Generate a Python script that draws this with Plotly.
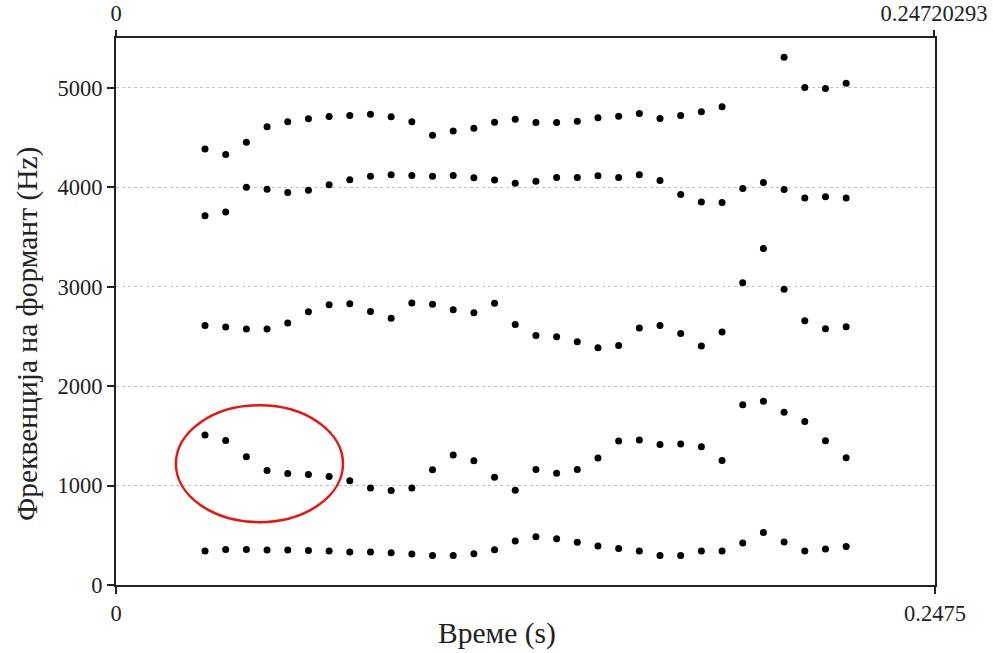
import plotly.graph_objects as go

# Frame times (s)
times = [0.0269, 0.03315, 0.0394, 0.04565, 0.0519, 0.05815, 0.0644, 0.07065,
         0.0769, 0.08315, 0.0894, 0.09565, 0.1019, 0.10815, 0.1144, 0.12065,
         0.1269, 0.13315, 0.1394, 0.14565, 0.1519, 0.15815, 0.1644, 0.17065,
         0.1769, 0.18315, 0.1894, 0.19565, 0.2019, 0.20815, 0.2144, 0.22065]

f1 = [341, 358, 358, 351, 351, 348, 341, 331, 331, 324, 311,
      297, 297, 314, 355, 442, 486, 465, 429, 392, 368, 341,
      297, 297, 341, 341, 422, 529, 432, 341, 361, 388]
f2 = [1508, 1454, 1289, 1151, 1121, 1111, 1091, 1047, 976, 950, 976,
      1158, 1306, 1249, 1084, 953, 1161, 1124, 1161, 1276, 1447, 1457,
      1413, 1417, 1390, 1252, 1813, 1847, 1736, 1645, 1450, 1279]
f3 = [2610, 2593, 2573, 2573, 2634, 2748, 2819, 2829, 2751, 2681, 2835,
      2822, 2768, 2738, 2832, 2620, 2509, 2496, 2445, 2385, 2408, 2583,
      2610, 2529, 2402, 2543, 3040, 3383, 2973, 2657, 2577, 2597]
f4 = [3714, 3751, 4000, 3980, 3946, 3970, 4024, 4074, 4111, 4124, 4118,
      4111, 4118, 4094, 4071, 4040, 4060, 4097, 4097, 4114, 4097, 4124,
      4067, 3926, 3852, 3845, 3987, 4047, 3976, 3892, 3903, 3892]
f5 = [4385, 4328, 4452, 4607, 4657, 4687, 4711, 4721, 4734, 4708, 4657,
      4523, 4566, 4593, 4654, 4684, 4650, 4650, 4664, 4698, 4714, 4741,
      4691, 4721, 4758, 4808, None, None, 5306, 5003, 4993, 5044]

formants = [f1, f2, f3, f4, f5]

x_range = [0, 0.2475]
y_range = [0, 5500]
y_ticks = [0, 1000, 2000, 3000, 4000, 5000]
bottom_tickvals = [0, 0.2475]
bottom_ticktext = ["0", "0.2475"]
top_tickvals = [0, 0.24720293]
top_ticktext = ["0", "0.24720293"]

FONT = "Liberation Serif"
INK = "#222222"
TICK_SIZE = 22.5

fig = go.Figure()
for f in formants:
    fig.add_trace(go.Scatter(x=times, y=f, mode="markers",
                             marker=dict(color="black", size=7),
                             showlegend=False, hoverinfo="skip"))
fig.add_trace(go.Scatter(x=[], y=[], xaxis="x2", showlegend=False))

fig.update_layout(
    width=993, height=653,
    margin=dict(l=116, r=58, t=38, b=68, autoexpand=False),
    paper_bgcolor="white", plot_bgcolor="white",
    font=dict(family=FONT, color=INK, size=21),
    xaxis=dict(range=x_range, tickvals=bottom_tickvals, ticktext=bottom_ticktext,
               showline=True, linecolor=INK, linewidth=2, mirror=True,
               ticks="outside", ticklen=7, tickwidth=1.5, tickcolor=INK,
               showgrid=False, zeroline=False, automargin=False,
               tickfont=dict(family=FONT, size=TICK_SIZE, color=INK)),
    xaxis2=dict(range=x_range, overlaying="x", side="top",
                tickvals=top_tickvals, ticktext=top_ticktext,
                showline=False, ticks="outside", ticklen=7, tickwidth=1.5,
                tickcolor=INK, showgrid=False, zeroline=False, automargin=False,
                tickfont=dict(family=FONT, size=TICK_SIZE, color=INK)),
    yaxis=dict(range=y_range, tickvals=y_ticks,
               showline=True, linecolor=INK, linewidth=2, mirror=True,
               ticks="outside", ticklen=7, tickwidth=1.5, tickcolor=INK,
               showgrid=True, gridcolor="#c4c4c4", gridwidth=1, griddash="dot",
               zeroline=False, automargin=False,
               tickfont=dict(family=FONT, size=TICK_SIZE, color=INK)),
    shapes=[dict(type="circle", xref="x", yref="y",
                 x0=0.0181, x1=0.0686, y0=632, y1=1807,
                 line=dict(color="#ee1111", width=2.5))],
    annotations=[
        dict(text="Време (s)", xref="paper", yref="paper",
             x=(497 - 116) / 819, y=(585 - 633) / 547,
             xanchor="center", yanchor="middle", showarrow=False,
             font=dict(family=FONT, size=29.5, color=INK)),
        dict(text="Фреквенција на формант (Hz)", xref="paper", yref="paper",
             x=(28 - 116) / 819, y=(585 - 334) / 547, textangle=-90,
             xanchor="center", yanchor="middle", showarrow=False,
             font=dict(family=FONT, size=29.5, color=INK)),
    ],
)

fig.write_html("out.html")
